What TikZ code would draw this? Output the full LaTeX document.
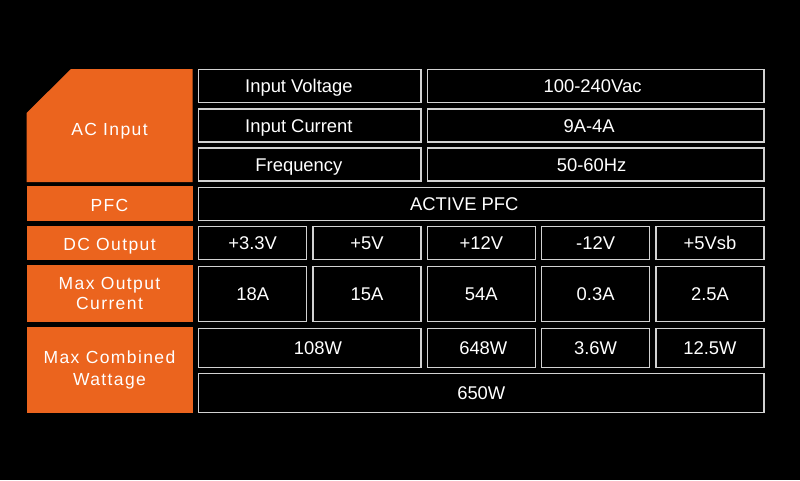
\documentclass[tikz,border=0pt]{standalone}
\usepackage{fontspec}
\setmainfont{Liberation Sans}
\newfontfamily\labelfont[LetterSpace=8]{Liberation Sans}
\definecolor{psuorange}{RGB}{235,100,30}
\definecolor{cellline}{RGB}{210,210,210}
\begin{document}
\begin{tikzpicture}[x=1pt,y=-1pt,
  cell/.style={draw=cellline,line width=1.4pt,fill=black,text=white,inner sep=0pt,
    text height=13.2pt,text depth=0pt,
    font=\fontsize{18.4}{20}\selectfont},
  lab/.style={fill=psuorange,text=white,inner sep=0pt,align=center,
    font=\labelfont\fontsize{17.5}{21}\selectfont},
  onelab/.style={lab,text height=15.3pt,text depth=0pt},
  labtext/.style={text=white,inner sep=0pt,align=center,text height=12.5pt,text depth=0pt,
    font=\labelfont\fontsize{17.5}{21}\selectfont}]
\fill[black] (0,0) rectangle (800,480);
\useasboundingbox (0,0) rectangle (800,480);
% orange label column
\fill[psuorange] (26.5,113) -- (71,69) -- (192.5,69) -- (192.5,182) -- (26.5,182) -- cycle;
\node[labtext] (acin) at (109.5,128.8) {AC Input};
\node[onelab,minimum width=166pt,minimum height=34.5pt] (pfc) at (109.5,203.7) {PFC};
\node[onelab,minimum width=166pt,minimum height=34pt] (dcout) at (109.5,243) {DC Output};
\node[lab,minimum width=166pt,minimum height=56.5pt] (maxcur) at (109.5,293.7) {Max Output\\[-1pt]Current};
\node[lab,minimum width=166pt,minimum height=85.5pt] (maxwatt) at (109.5,370.2) {Max Combined\\[1pt]Wattage};
% AC input rows
\node[cell,minimum width=222.4pt,minimum height=33pt] (ivl) at (309.9,86.2) {Input Voltage\hspace*{22pt}};
\node[cell,minimum width=336.7pt,minimum height=33pt] (ivr) at (595.6,86.2) {100-240Vac\hspace*{6pt}};
\node[cell,minimum width=222.4pt,minimum height=33pt] (icl) at (309.9,125.4) {Input Current\hspace*{22pt}};
\node[cell,minimum width=336.7pt,minimum height=33pt] (icr) at (595.6,125.4) {9A-4A\hspace*{13pt}};
\node[cell,minimum width=222.4pt,minimum height=33pt] (frl) at (309.9,164.5) {Frequency\hspace*{22pt}};
\node[cell,minimum width=336.7pt,minimum height=33pt] (frr) at (595.6,164.5) {50-60Hz\hspace*{8pt}};
% PFC
\node[cell,minimum width=565.3pt,minimum height=33pt] (pfcv) at (481.3,203.7) {ACTIVE PFC\hspace*{34pt}};
% DC output
\node[cell,minimum width=108pt,minimum height=32.6pt] (v1) at (252.7,243) {+3.3V};
\node[cell,minimum width=108pt,minimum height=32.6pt] (v2) at (367,243) {+5V};
\node[cell,minimum width=108pt,minimum height=32.6pt] (v3) at (481.3,243) {+12V};
\node[cell,minimum width=108pt,minimum height=32.6pt] (v4) at (595.6,243) {-12V};
\node[cell,minimum width=108pt,minimum height=32.6pt] (v5) at (710,243) {+5Vsb};
% Max output current
\node[cell,minimum width=108pt,minimum height=55pt] (a1) at (252.7,293.7) {18A};
\node[cell,minimum width=108pt,minimum height=55pt] (a2) at (367,293.7) {15A};
\node[cell,minimum width=108pt,minimum height=55pt] (a3) at (481.3,293.7) {54A};
\node[cell,minimum width=108pt,minimum height=55pt] (a4) at (595.6,293.7) {0.3A};
\node[cell,minimum width=108pt,minimum height=55pt] (a5) at (710,293.7) {2.5A};
% Max combined wattage
\node[cell,minimum width=222.4pt,minimum height=39pt] (w12) at (309.9,347.7) {\hspace*{16pt}108W};
\node[cell,minimum width=108pt,minimum height=39pt] (w3) at (481.3,347.7) {\hspace*{4pt}648W};
\node[cell,minimum width=108pt,minimum height=39pt] (w4) at (595.6,347.7) {3.6W};
\node[cell,minimum width=108pt,minimum height=39pt] (w5) at (710,347.7) {12.5W};
\node[cell,minimum width=565.3pt,minimum height=39pt] (wtot) at (481.3,393) {650W};
\end{tikzpicture}
\end{document}
